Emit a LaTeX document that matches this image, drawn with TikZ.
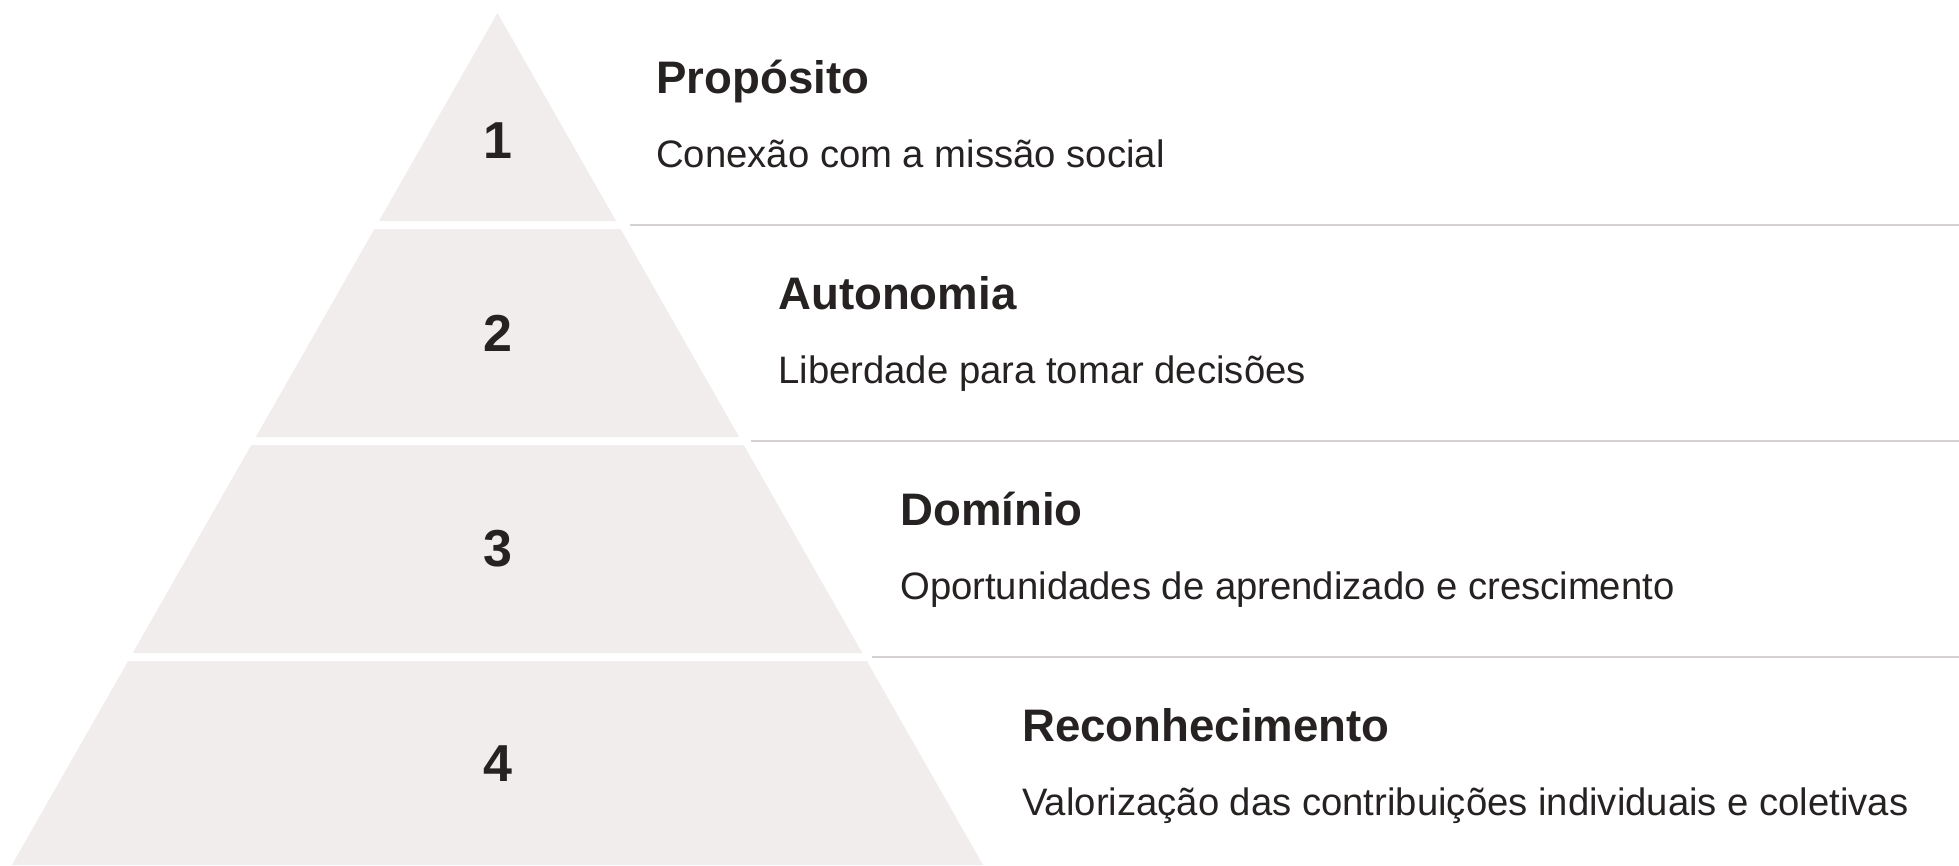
\documentclass[tikz,border=0pt]{standalone}
\usepackage{fontspec}
\setmainfont{Liberation Sans}
\definecolor{tierfill}{HTML}{F0EDEC}
\definecolor{sepline}{HTML}{D6D2D2}
\definecolor{ink}{HTML}{262222}
\tikzset{
  tier/.style={fill=tierfill, draw=none},
  sep/.style={draw=sepline, line width=1.6pt},
  numlabel/.style={font=\fontsize{39}{44}\selectfont\bfseries, text=ink, inner sep=0pt, anchor=center},
  titlelabel/.style={font=\fontsize{34.2}{38}\selectfont\bfseries, text=ink, inner sep=0pt, anchor=base west},
  desclabel/.style={font=\fontsize{28.7}{32}\selectfont, text=ink, inner sep=0pt, anchor=base west}
}
\begin{document}
\begin{tikzpicture}[x=0.75pt, y=-0.75pt]
\useasboundingbox (0,0) rectangle (1959,865);
% pyramid tiers
\fill[tier] (497.5,13) -- ({497.5+0.57*208},221) -- ({497.5-0.57*208},221) -- cycle;
\foreach \ta/\tb in {229/437, 445/653, 661/865} {
  \fill[tier] ({497.5-0.57*(\ta-13)},\ta) -- ({497.5+0.57*(\ta-13)},\ta)
    -- ({497.5+0.57*(\tb-13)},\tb) -- ({497.5-0.57*(\tb-13)},\tb) -- cycle;
}
% separator lines
\coordinate (s1a) at (630,225);  \coordinate (s1b) at (1959,225);
\coordinate (s2a) at (751,441);  \coordinate (s2b) at (1959,441);
\coordinate (s3a) at (872,657);  \coordinate (s3b) at (1959,657);
\draw[sep] (s1a) -- (s1b);
\draw[sep] (s2a) -- (s2b);
\draw[sep] (s3a) -- (s3b);
% numbers
\node[numlabel] (n1) at (497.5,140.5) {1};
\node[numlabel] (n2) at (497.5,333) {2};
\node[numlabel] (n3) at (497.5,549) {3};
\node[numlabel] (n4) at (497.5,764) {4};
% titles and descriptions
\node[titlelabel] (t1) at (656,93.5) {Propósito};
\node[desclabel] (d1) at (656,167.7) {Conexão com a missão social};
\node[titlelabel] (t2) at (778,309.5) {Autonomia};
\node[desclabel] (d2) at (778,383.7) {Liberdade para tomar decisões};
\node[titlelabel] (t3) at (900,525.5) {Domínio};
\node[desclabel] (d3) at (900,599.7) {Oportunidades de aprendizado e crescimento};
\node[titlelabel] (t4) at (1022,741.5) {Reconhecimento};
\node[desclabel] (d4) at (1022,815.7) {Valorização das contribuições individuais e coletivas};
\end{tikzpicture}
\end{document}
